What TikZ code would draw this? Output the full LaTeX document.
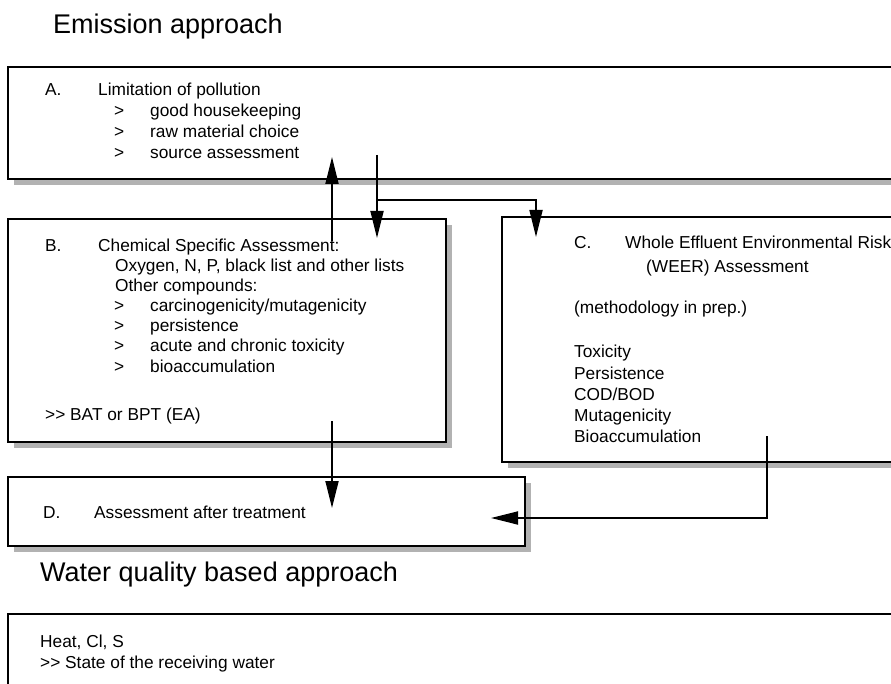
\documentclass[tikz,border=0pt]{standalone}
\usepackage{fontspec}
\setmainfont{Liberation Sans}
\usetikzlibrary{arrows.meta}
\begin{document}
\begin{tikzpicture}[x=1pt,y=-1pt,
  box/.style={draw=black, line width=2pt, fill=white, inner sep=0pt, anchor=north west},
  shad/.style={fill=black!30, draw=none},
  txt/.style={anchor=base west, inner sep=0pt, font=\fontsize{17.3pt}{20pt}\selectfont},
  ttl/.style={anchor=base west, inner sep=0pt, font=\fontsize{27pt}{30pt}\selectfont},
  arr/.style={line width=1.8pt, -{Triangle[length=27pt,width=13pt]}},
  link/.style={line width=1.8pt}]
\useasboundingbox (0,0) rectangle (891,684);
\clip (0,0) rectangle (891,684);
\fill[white] (0,0) rectangle (891,684);

% shadows
\fill[shad] (14,73) rectangle (910,185);
\fill[shad] (14,225) rectangle (452,448);
\fill[shad] (508,223) rectangle (910,468);
\fill[shad] (14,483) rectangle (531,552);

% boxes
\node[box, minimum width=905pt, minimum height=112pt] (A) at (7,66) {};
\node[box, minimum width=438pt, minimum height=223pt] (B) at (7,218) {};
\node[box, minimum width=405pt, minimum height=245pt] (C) at (501,216) {};
\node[box, minimum width=517pt, minimum height=69pt] (D) at (7,476) {};
\node[box, minimum width=905pt, minimum height=71pt] (E) at (7,613) {};

% titles
\node[ttl] (t1) at (53,34) {Emission approach};
\node[ttl] (t2) at (40,581) {Water quality based approach};

% box A text
\node[txt] (a0) at (45,96) {A.};
\node[txt] (a1) at (98,96) {Limitation of pollution};
\node[txt] (a2g) at (114,117) {>};
\node[txt] (a2) at (150,117) {good housekeeping};
\node[txt] (a3g) at (114,138) {>};
\node[txt] (a3) at (150,138) {raw material choice};
\node[txt] (a4g) at (114,159) {>};
\node[txt] (a4) at (150,159) {source assessment};

% box B text
\node[txt] (b0) at (45,252) {B.};
\node[txt] (b1) at (98,252) {Chemical Specific Assessment:};
\node[txt] (b2) at (115,272) {Oxygen, N, P, black list and other lists};
\node[txt] (b3) at (115,292) {Other compounds:};
\node[txt] (b4g) at (114,312) {>};
\node[txt] (b4) at (150,312) {carcinogenicity/mutagenicity};
\node[txt] (b5g) at (114,332) {>};
\node[txt] (b5) at (150,332) {persistence};
\node[txt] (b6g) at (114,352) {>};
\node[txt] (b6) at (150,352) {acute and chronic toxicity};
\node[txt] (b7g) at (114,372) {>};
\node[txt] (b7) at (150,372) {bioaccumulation};
\node[txt] (b8) at (45,420) {{>}{>} BAT or BPT (EA)};

% box C text
\node[txt] (c0) at (574,249) {C.};
\node[txt] (c1) at (625,249) {Whole Effluent Environmental Risk};
\node[txt] (c2) at (646,273) {(WEER) Assessment};
\node[txt] (c3) at (574,314) {(methodology in prep.)};
\node[txt] (c4) at (574,358) {Toxicity};
\node[txt] (c5) at (574,379) {Persistence};
\node[txt] (c6) at (574,400) {COD/BOD};
\node[txt] (c7) at (574,421) {Mutagenicity};
\node[txt] (c8) at (574,442) {Bioaccumulation};

% box D text
\node[txt] (d0) at (43,518) {D.};
\node[txt] (d1) at (94,518) {Assessment after treatment};

% bottom box text
\node[txt] (e1) at (40,647) {Heat, Cl, S};
\node[txt] (e2) at (40,668) {{>}{>} State of the receiving water};

% connector points
\coordinate (upS) at (332,241);
\coordinate (upE) at (332,157);
\coordinate (dnS) at (377,155);
\coordinate (dnE) at (377,238);
\coordinate (jn) at (377,200);
\coordinate (cE) at (536,237);
\coordinate (bdS) at (332,421);
\coordinate (bdE) at (332,508);
\coordinate (cdS) at (767,436);
\coordinate (cdE) at (491,518);

\draw[arr] (upS) -- (upE);
\draw[arr] (dnS) -- (dnE);
\draw[arr] (jn) -| (cE);
\draw[arr] (bdS) -- (bdE);
\draw[arr] (cdS) |- (cdE);
\end{tikzpicture}
\end{document}
